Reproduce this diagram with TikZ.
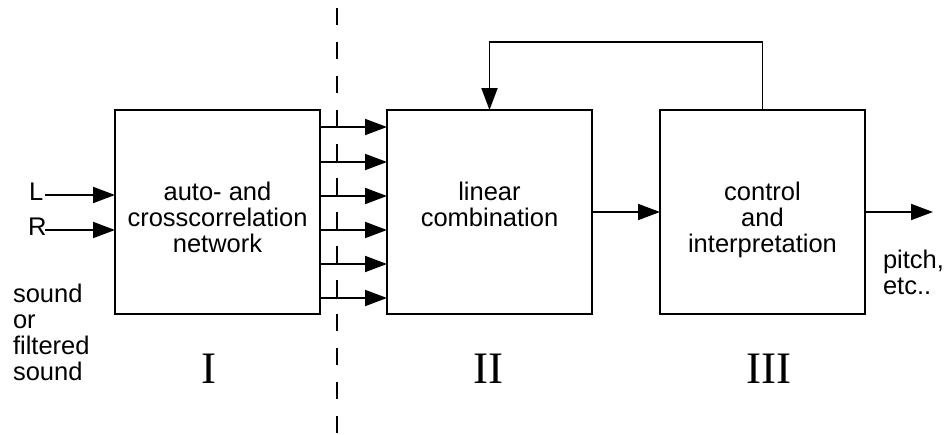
\documentclass[tikz,border=0pt]{standalone}
\usepackage{fontspec}
\setmainfont{Liberation Sans}
\newfontfamily\romanfont{Liberation Serif}
\usetikzlibrary{arrows.meta}
\begin{document}
\begin{tikzpicture}[x=1pt,y=-1pt,
  every node/.style={inner sep=0pt,outer sep=0pt},
  box/.style={draw,line width=1.7pt,minimum width=205pt,minimum height=204pt},
  arr/.style={line width=1.9pt,-{Triangle[length=22pt,width=16pt]}},
  lbl/.style={font=\fontsize{25.5}{26}\selectfont,anchor=base},
  rom/.style={font=\romanfont\fontsize{45}{45}\selectfont,anchor=base},
  dashline/.style={line width=1.6pt,dash pattern=on 17pt off 17pt}]
\useasboundingbox (0,0) rectangle (951,434);
% boxes
\node[box] (b1) at (217.5,212) {};
\node[box] (b2) at (489.5,212) {};
\node[box] (b3) at (762.5,212) {};
% box texts
\node[lbl] (t1) at (217.5,200) {\begin{tabular}[t]{@{}c@{}}auto- and\\crosscorrelation\\network\end{tabular}};
\node[lbl] (t2) at (489.5,200) {\begin{tabular}[t]{@{}c@{}}linear\\combination\end{tabular}};
\node[lbl] (t3) at (762.5,200) {\begin{tabular}[t]{@{}c@{}}control\\and\\interpretation\end{tabular}};
% dashed separator
\coordinate (dtop) at (337,8);
\coordinate (dbot) at (337,434);
\draw[dashline] (dtop) -- (dbot);
% inputs
\node[lbl,anchor=base west] (L) at (29,200) {L};
\node[lbl,anchor=base west] (R) at (28,235) {R};
\coordinate (Ls) at (45,195);
\coordinate (Rs) at (45,230);
\draw[arr] (Ls) -- (b1.west |- Ls);
\draw[arr] (Rs) -- (b1.west |- Rs);
\node[lbl,anchor=base west] (snd) at (13,302) {\begin{tabular}[t]{@{}l@{}}sound\\or\\filtered\\sound\end{tabular}};
% parallel connections I -> II
\foreach \yy [count=\i] in {127,162,196,230,264,298}{
  \coordinate (p\i) at (0,\yy);
  \draw[arr] (b1.east |- p\i) -- (b2.west |- p\i);
}
% II -> III
\draw[arr] (b2.east) -- (b3.west);
% output
\coordinate (out) at (933,212);
\draw[arr] (b3.east) -- (out);
\node[lbl,anchor=base west] (pitch) at (883,268) {\begin{tabular}[t]{@{}l@{}}pitch,\\etc..\end{tabular}};
% feedback
\draw[arr] (b3.north) -- ++(0,-68) -| (b2.north);
% stage numerals
\node[rom] (r1) at (209,383) {I};
\node[rom] (r2) at (488,383) {II};
\node[rom] (r3) at (769,383) {III};
\end{tikzpicture}
\end{document}
